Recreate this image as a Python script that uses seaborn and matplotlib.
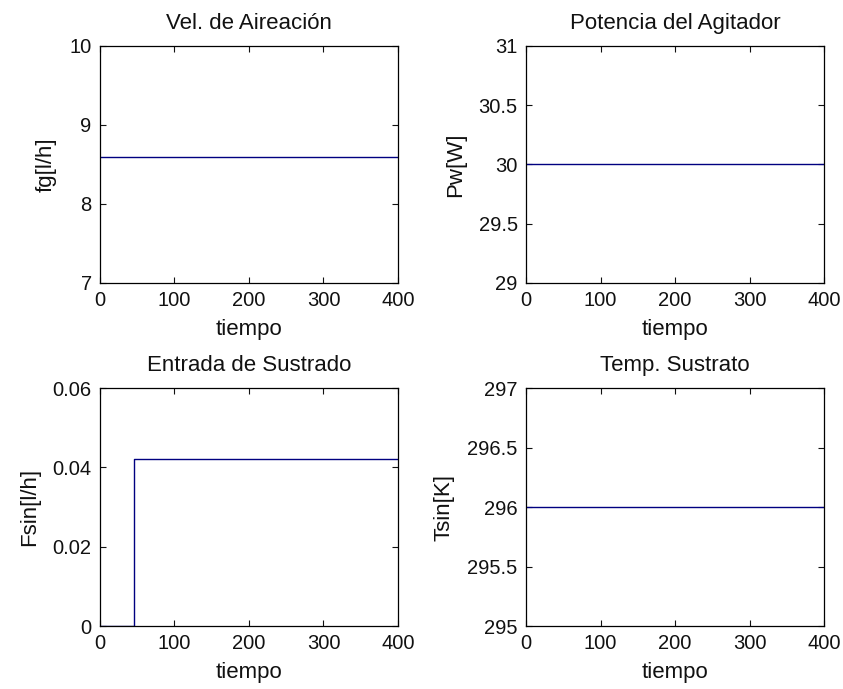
import matplotlib
matplotlib.use("Agg")
import matplotlib.pyplot as plt
import seaborn as sns
import pandas as pd

# Input signals over time
tiempo = [0, 400]
fg = [8.6, 8.6]
pw = [30, 30]
tsin = [296, 296]
tiempo_fsin = [0, 45, 45, 400]
fsin = [0, 0, 0.042, 0.042]

titles = ["Vel. de Aireación", "Potencia del Agitador", "Entrada de Sustrado", "Temp. Sustrato"]
ylabels = ["fg[l/h]", "Pw[W]", "Fsin[l/h]", "Tsin[K]"]
ylims = [(7, 10), (29, 31), (0, 0.06), (295, 297)]
yticks = [[7, 8, 9, 10], [29, 29.5, 30, 30.5, 31], [0, 0.02, 0.04, 0.06], [295, 295.5, 296, 296.5, 297]]
yticklabels = [["7", "8", "9", "10"], ["29", "29.5", "30", "30.5", "31"],
               ["0", "0.02", "0.04", "0.06"], ["295", "295.5", "296", "296.5", "297"]]
xticks = [0, 100, 200, 300, 400]

sns.set_style("ticks")
plt.rcParams["font.family"] = ["Liberation Sans", "DejaVu Sans"]
plt.rcParams["text.color"] = "#111111"
plt.rcParams["axes.labelcolor"] = "#111111"

fig = plt.figure(figsize=(8.43, 6.89), dpi=100)
fig.patch.set_facecolor("white")

positions = [
    [0.1186, 0.5893, 0.3535, 0.344],
    [0.624, 0.5893, 0.3535, 0.344],
    [0.1186, 0.0914, 0.3535, 0.3454],
    [0.624, 0.0914, 0.3535, 0.3454],
]

series = [
    pd.DataFrame({"t": tiempo, "v": fg}),
    pd.DataFrame({"t": tiempo, "v": pw}),
    pd.DataFrame({"t": tiempo_fsin, "v": fsin}),
    pd.DataFrame({"t": tiempo, "v": tsin}),
]

line_color = "#000080"
for i, df in enumerate(series):
    ax = fig.add_axes(positions[i])
    sns.lineplot(data=df, x="t", y="v", ax=ax, sort=False, estimator=None,
                 color=line_color, linewidth=1.0)
    ax.set_xlim(0, 400)
    ax.set_ylim(*ylims[i])
    ax.set_xticks(xticks)
    ax.set_xticklabels([str(x) for x in xticks])
    ax.set_yticks(yticks[i])
    ax.set_yticklabels(yticklabels[i])
    ax.set_title(titles[i], fontsize=16, pad=12, color="#111111")
    ax.set_xlabel("tiempo", fontsize=16, labelpad=6, color="#111111")
    ax.set_ylabel(ylabels[i], fontsize=16, labelpad=9, color="#111111")
    ax.tick_params(direction="in", top=True, right=True, length=4, width=0.8,
                   labelsize=14.5, colors="#111111")
    ax.tick_params(axis="y", pad=6)
    ax.tick_params(axis="x", pad=6)
    for s in ax.spines.values():
        s.set_visible(True)
        s.set_linewidth(0.9)
        s.set_color("black")

fig.savefig("out.png", dpi=100, facecolor="white")
